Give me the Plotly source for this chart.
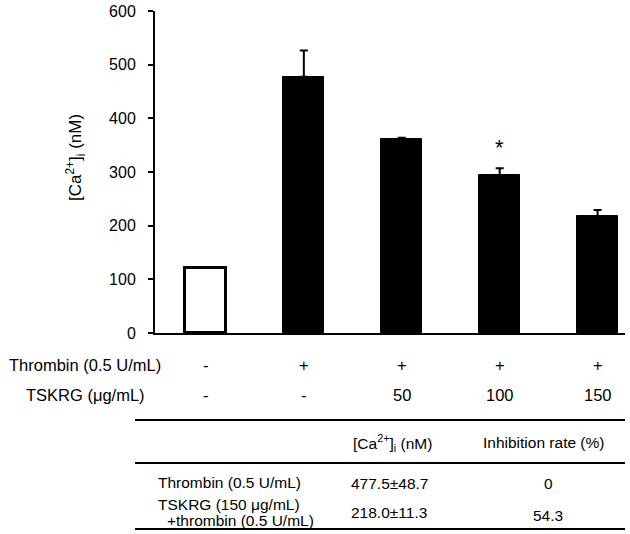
import plotly.graph_objects as go

# ---- data ----
groups = ["Control", "Thrombin", "TSKRG 50", "TSKRG 100", "TSKRG 150"]
ca_values = [121, 477.5, 362, 294, 218.0]
ca_errors = [0, 48.7, 2, 13, 11.3]
thrombin_row = ["-", "+", "+", "+", "+"]
tskrg_row = ["-", "-", "50", "100", "150"]
bar_fill = ["white", "black", "black", "black", "black"]
significant = [False, False, False, True, False]
y_ticks = [0, 100, 200, 300, 400, 500, 600]

table_header = ["[Ca<sup>2+</sup>]<sub>i</sub> (nM)", "Inhibition rate (%)"]
table_ca = ["477.5±48.7", "218.0±11.3"]
table_inhib = ["0", "54.3"]

FONT = "Arial, 'Liberation Sans', sans-serif"

W, H = 630, 534
L, R, T, B = 155, 625, 11, 333  # plot area in pixels


def px(p):
    return (p - L) / (R - L)


def py(p):
    return (B - p) / (B - T)


xs = list(range(len(groups)))

fig = go.Figure()
fig.add_trace(go.Bar(
    x=xs, y=ca_values,
    width=0.42,
    marker=dict(color=bar_fill, line=dict(color="black", width=[3, 1, 1, 1, 1])),
    error_y=dict(type="data", array=ca_errors, symmetric=False,
                 arrayminus=[0] * len(xs), color="black", thickness=2, width=4,
                 visible=True),
    showlegend=False,
))

ann = []
# significance star
for i, s in enumerate(significant):
    if s:
        ann.append(dict(x=i, y=ca_values[i] + ca_errors[i] + 38, xref="x", yref="y",
                        text="*", showarrow=False, font=dict(size=22, color="black", family=FONT),
                        xanchor="center", yanchor="middle"))

# y-axis title
ann.append(dict(x=px(75), y=py(158), xref="paper", yref="paper",
                text="[Ca<sup>2+</sup>]<sub>i</sub> (nM)", textangle=-90, showarrow=False,
                font=dict(size=17, color="black", family=FONT),
                xanchor="center", yanchor="middle"))

rf = dict(size=16.5, color="black", family=FONT)
# condition rows
ann.append(dict(x=px(85), y=py(365), xref="paper", yref="paper", text="Thrombin (0.5 U/mL)",
                showarrow=False, font=rf, xanchor="center", yanchor="middle"))
ann.append(dict(x=px(85), y=py(395), xref="paper", yref="paper", text="TSKRG (μg/mL)",
                showarrow=False, font=rf, xanchor="center", yanchor="middle"))
for i in xs:
    ann.append(dict(x=i, y=py(365), xref="x", yref="paper", text=thrombin_row[i],
                    showarrow=False, font=rf, xanchor="center", yanchor="middle"))
    ann.append(dict(x=i, y=py(395), xref="x", yref="paper", text=tskrg_row[i],
                    showarrow=False, font=rf, xanchor="center", yanchor="middle"))

# table
tf = dict(size=15.5, color="black", family=FONT)
ann.append(dict(x=px(392), y=py(443), xref="paper", yref="paper", text=table_header[0],
                showarrow=False, font=tf, xanchor="center", yanchor="middle"))
ann.append(dict(x=px(543), y=py(443), xref="paper", yref="paper", text=table_header[1],
                showarrow=False, font=tf, xanchor="center", yanchor="middle"))
ann.append(dict(x=px(156), y=py(482), xref="paper", yref="paper", text="Thrombin (0.5 U/mL)",
                showarrow=False, font=tf, xanchor="left", yanchor="middle"))
ann.append(dict(x=px(156), y=py(504), xref="paper", yref="paper", text="TSKRG (150 μg/mL)",
                showarrow=False, font=tf, xanchor="left", yanchor="middle"))
ann.append(dict(x=px(165), y=py(520), xref="paper", yref="paper", text="+thrombin (0.5 U/mL)",
                showarrow=False, font=tf, xanchor="left", yanchor="middle"))
ann.append(dict(x=px(349), y=py(483), xref="paper", yref="paper", text=table_ca[0],
                showarrow=False, font=tf, xanchor="left", yanchor="middle"))
ann.append(dict(x=px(349), y=py(512), xref="paper", yref="paper", text=table_ca[1],
                showarrow=False, font=tf, xanchor="left", yanchor="middle"))
ann.append(dict(x=px(548), y=py(483), xref="paper", yref="paper", text=table_inhib[0],
                showarrow=False, font=tf, xanchor="center", yanchor="middle"))
ann.append(dict(x=px(548), y=py(515), xref="paper", yref="paper", text=table_inhib[1],
                showarrow=False, font=tf, xanchor="center", yanchor="middle"))

shapes = []
for ly in [420, 463, 529]:
    shapes.append(dict(type="line", xref="paper", yref="paper", x0=px(135), x1=px(625),
                       y0=py(ly), y1=py(ly), line=dict(color="black", width=2)))

fig.update_layout(
    width=W, height=H,
    margin=dict(l=L, r=W - R, t=T, b=H - B, pad=0, autoexpand=False),
    paper_bgcolor="white", plot_bgcolor="white",
    font=dict(family=FONT, color="black"),
    xaxis=dict(range=[-0.52, 4.28], showticklabels=False, ticks="", showgrid=False,
               zeroline=False, showline=True, linecolor="black", linewidth=2,
               automargin=False),
    yaxis=dict(range=[0, 600], tickvals=y_ticks, ticks="outside", ticklen=5, tickwidth=2,
               tickcolor="black", showgrid=False, zeroline=False, showline=True,
               linecolor="black", linewidth=2, ticklabelstandoff=9,
               ticklabeloverflow="allow", automargin=False,
               tickfont=dict(size=16, color="black", family=FONT)),
    annotations=ann,
    shapes=shapes,
    bargap=0,
)

# remove the default 8px page margin so the figure sits at the window's corner
fig.write_html("out.html", config={"displayModeBar": False},
               post_script="document.body.style.margin='0px';")
